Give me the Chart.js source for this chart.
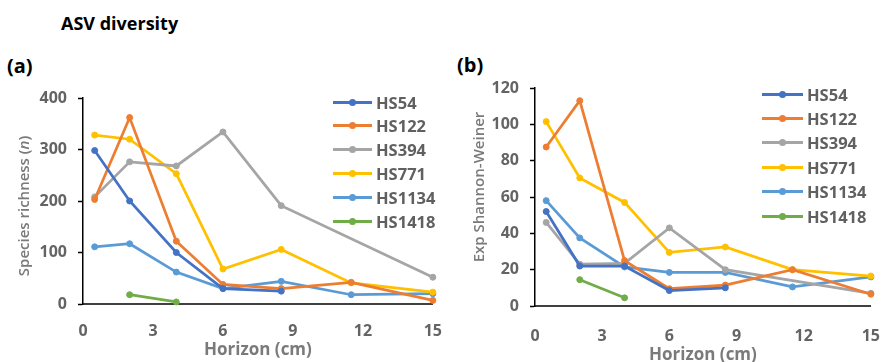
<!DOCTYPE html>
<html lang="en">
<head>
    <meta charset="UTF-8">
    <title>ASV diversity</title>
    <script src="https://cdn.jsdelivr.net/npm/chart.js"></script>
    <style>
        body { margin: 0; width: 893px; height: 362px; overflow: hidden; background: #fff; font-family: "Open Sans", sans-serif; position: relative; }
        .box { position: absolute; top: 0; height: 362px; }
        .txt { position: absolute; font-weight: bold; color: #000; line-height: 1; white-space: nowrap; }
        .legend { position: absolute; }
        .row { position: absolute; left: 0; height: 20px; display: flex; align-items: center; }
        .sw { position: relative; height: 20px; }
        .sw .ln { position: absolute; left: 0; right: 0; top: 8.5px; height: 3px; }
        .sw .dot { position: absolute; left: 50%; top: 6.5px; width: 7px; height: 7px; margin-left: -3.5px; border-radius: 50%; }
        .row span { font-weight: bold; font-size: 16.5px; color: #606060; margin-left: 4px; }
    </style>
</head>
<body>

<div class="txt" style="left:61px; top:14px; font-size:18px;">ASV diversity</div>
<div class="txt" style="left:7px; top:56px; font-size:20px;">(a)</div>
<div class="txt" style="left:457px; top:55px; font-size:20px;">(b)</div>

<div class="box" style="left:0; width:452px;"><canvas id="chartA"></canvas></div>
<div class="box" style="left:452px; width:441px;"><canvas id="chartB"></canvas></div>

<div class="legend" id="legendA" style="left:333px; top:92px;"></div>
<div class="legend" id="legendB" style="left:762px; top:84px;"></div>

<script>
    // profundidad de cada horizonte (cm)
    const horizons = [0.5, 2, 4, 6, 8.5, 11.5, 15];
    const sites = ['HS54', 'HS122', 'HS394', 'HS771', 'HS1134', 'HS1418'];
    const colors = ['#4472C4', '#ED7D31', '#A5A5A5', '#FFC000', '#5B9BD5', '#70AD47'];

    // (a) species richness
    const richHS54   = [298, 200, 100, 30, 25, null, null];
    const richHS122  = [203, 362, 122, 38, 30, 42, 7];
    const richHS394  = [208, 276, 268, 334, 191, null, 52];
    const richHS771  = [328, 320, 253, 68, 106, 41, 23];
    const richHS1134 = [111, 117, 62, 30, 44, 18, 20];
    const richHS1418 = [null, 18, 4, null, null, null, null];

    // (b) exp Shannon-Weiner
    const shanHS54   = [52, 22, 22, 8.5, 10, null, null];
    const shanHS122  = [87.5, 113, 25, 9.5, 11.5, 20, 6.5];
    const shanHS394  = [46, 23, 23.5, 43, 20, null, 7];
    const shanHS771  = [101.5, 70.5, 57, 29.5, 32.5, 20, 16.5];
    const shanHS1134 = [58, 37.5, 21.5, 18.5, 18.5, 10.5, 16];
    const shanHS1418 = [null, 14.5, 4.5, null, null, null, null];

    const xTicks = [0, 3, 6, 9, 12, 15];
    const yTicksA = [0, 100, 200, 300, 400];
    const yTicksB = [0, 20, 40, 60, 80, 100, 120];

    const tickColor = '#646464';
    const titleColor = '#7a7a7a';

    function makeDatasets(series) {
        return series.map(function (vals, i) {
            return {
                label: sites[i],
                data: horizons.map(function (h, j) { return { x: h, y: vals[j] }; }),
                borderColor: colors[i],
                backgroundColor: colors[i],
                borderWidth: 2.75,
                pointRadius: 3,
                pointBorderWidth: 1,
                pointHoverRadius: 3,
                tension: 0,
                spanGaps: true,
                clip: false
            };
        });
    }

    // titulos de ejes dibujados a mano (para la n en cursiva)
    const axisTitles = {
        id: 'axisTitles',
        afterDraw: function (chart, args, opts) {
            const ctx = chart.ctx;
            const area = chart.chartArea;
            ctx.save();
            ctx.fillStyle = titleColor;
            ctx.textBaseline = 'middle';
            // x
            ctx.font = 'bold 17px "Open Sans"';
            ctx.textAlign = 'center';
            ctx.fillText('Horizon (cm)', (area.left + area.right) / 2, area.bottom + opts.xOffset);
            // y
            const parts = opts.yParts;
            let total = 0;
            parts.forEach(function (p) { ctx.font = p.font; p.w = ctx.measureText(p.t).width; total += p.w; });
            ctx.translate(area.left - opts.yOffset, (area.top + area.bottom) / 2 + opts.yShift);
            ctx.rotate(-Math.PI / 2);
            ctx.textAlign = 'left';
            let x = -total / 2;
            parts.forEach(function (p) { ctx.font = p.font; ctx.fillText(p.t, x, 0); x += p.w; });
            ctx.restore();
        }
    };

    function makeChart(id, series, yMax, yStep, pad, xH, tickPad, titleOpts) {
        return new Chart(document.getElementById(id), {
            type: 'line',
            data: { datasets: makeDatasets(series) },
            plugins: [axisTitles],
            options: {
                responsive: true,
                maintainAspectRatio: false,
                animation: false,
                events: [],
                layout: { padding: pad },
                plugins: {
                    legend: { display: false },
                    tooltip: { enabled: false },
                    axisTitles: titleOpts
                },
                scales: {
                    x: {
                        type: 'linear', min: 0, max: 15,
                        afterBuildTicks: function (s) { s.ticks = xTicks.map(function (v) { return { value: v }; }); },
                        grid: { display: false },
                        border: { color: '#404040', width: 2 },
                        ticks: { color: tickColor, font: { family: 'Open Sans', size: 16, weight: 'bold' }, padding: tickPad, maxRotation: 0 },
                        afterFit: function (s) { s.height = xH; }
                    },
                    y: {
                        min: 0, max: yMax,
                        afterBuildTicks: function (s) { s.ticks = (yMax === 400 ? yTicksA : yTicksB).map(function (v) { return { value: v }; }); },
                        grid: { drawOnChartArea: false, drawTicks: true, tickLength: 5, tickColor: '#000', tickWidth: 1.5 },
                        border: { color: '#000', width: 1.5 },
                        ticks: { color: tickColor, font: { family: 'Open Sans', size: 16, weight: 'bold' }, padding: 11 },
                        afterFit: function (s) { s.width = 83; }
                    }
                }
            }
        });
    }

    makeChart('chartA',
        [richHS54, richHS122, richHS394, richHS771, richHS1134, richHS1418],
        400, 100, { top: 98, right: 9, left: 0, bottom: 0 }, 58, 10,
        { xOffset: 46, yOffset: 58, yShift: 5,
          yParts: [ { t: 'Species richness (', font: '600 15px "Open Sans"' },
                    { t: 'n', font: 'italic 600 15px "Open Sans"' },
                    { t: ')', font: '600 15px "Open Sans"' } ] });

    makeChart('chartB',
        [shanHS54, shanHS122, shanHS394, shanHS771, shanHS1134, shanHS1418],
        120, 20, { top: 88, right: 9, left: 0, bottom: 0 }, 56, 13,
        { xOffset: 49, yOffset: 55, yShift: -10,
          yParts: [ { t: 'Exp Shannon-Weiner', font: '600 15px "Open Sans"' } ] });

    // leyendas
    function buildLegend(id, lineW, step) {
        const el = document.getElementById(id);
        sites.forEach(function (s, i) {
            const row = document.createElement('div');
            row.className = 'row';
            row.style.top = (i * step) + 'px';
            row.innerHTML = '<div class="sw" style="width:' + lineW + 'px"><div class="ln" style="background:' + colors[i] +
                '"></div><div class="dot" style="background:' + colors[i] + '"></div></div><span>' + s + '</span>';
            el.appendChild(row);
        });
    }
    buildLegend('legendA', 39, 23.8);
    buildLegend('legendB', 41, 24.4);
</script>

</body>
</html>
